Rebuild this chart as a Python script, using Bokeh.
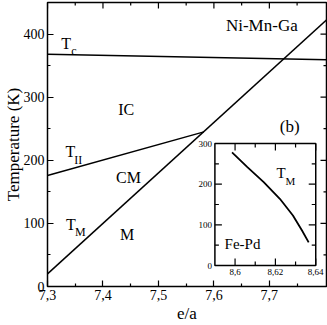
import math
from bokeh.plotting import figure
from bokeh.models import FixedTicker, Label, Range1d
from bokeh.core.properties import value
from bokeh.embed import file_html
from bokeh.resources import INLINE

FONT = "'Liberation Serif', 'Times New Roman', serif"

# ---------------- data ----------------
# Ni-Mn-Ga phase diagram lines (e/a, temperature K)
tc_x = [7.3, 7.81]
tc_y = [368, 359]
tm_x = [7.3, 7.81]
tm_y = [20, 428]
tii_x = [7.3, 7.582]
tii_y = [176, 245]

# Fe-Pd inset martensitic transition curve
fepd_x = [8.5985, 8.6061, 8.6142, 8.6222, 8.6287, 8.6332, 8.6365]
fepd_y = [278, 242, 205, 164, 123, 86, 57]

main_xrange = (7.3, 7.803)
main_yrange = (0, 450)
main_xticks = [7.3, 7.4, 7.5, 7.6, 7.7]
main_xminor = [7.35, 7.45, 7.55, 7.65, 7.75]
main_xlabels = ["7,3", "7,4", "7,5", "7,6", "7,7"]
main_yticks = [0, 100, 200, 300, 400]
main_yminor = [50, 150, 250, 350]

inset_xrange = (8.59, 8.64)
inset_yrange = (0, 300)
inset_xticks = [8.6, 8.62, 8.64]
inset_xminor = [8.61, 8.63]
inset_xlabels = ["8,6", "8,62", "8,64"]
inset_yticks = [0, 100, 200, 300]
inset_yminor = [50, 150, 250]
inset_ylabels = ["0", "100", "200", "300"]

# geometry (pixels)
W, H = 327, 325
FL, FR, FT, FB = 41, 326, 2, 286          # main frame edges
IL, IR, IT, IB = 212, 315, 143, 265       # inset frame edges


def labelled_axis(ax, ticks, minor, labels, font_size, tin, tmin, standoff):
    ax.ticker = FixedTicker(ticks=ticks, minor_ticks=minor)
    ax.major_tick_in = tin
    ax.major_tick_out = 0
    ax.minor_tick_in = tmin
    ax.minor_tick_out = 0
    ax.major_tick_line_color = "black"
    ax.minor_tick_line_color = "black"
    ax.major_tick_line_width = 1.2
    ax.minor_tick_line_width = 1.2
    ax.axis_line_color = None
    if labels is not None:
        ax.major_label_overrides = {t: l for t, l in zip(ticks, labels)}
    ax.major_label_text_font = FONT
    ax.major_label_text_font_size = font_size
    ax.major_label_text_color = "black"
    ax.major_label_standoff = standoff


def edge_ticks(fig, xs, ys, angle, length, **rng):
    fig.ray(x=xs, y=ys, length=length, length_units="screen", angle=angle,
            line_color="black", line_width=1.2, **rng)


def axis_title(ax, text, standoff):
    ax.axis_label = text
    ax.axis_label_text_font = FONT
    ax.axis_label_text_font_size = "17px"
    ax.axis_label_text_font_style = "normal"
    ax.axis_label_text_color = "black"
    ax.axis_label_standoff = standoff


def lab(fig, x, y, text, size, **rng):
    fig.add_layout(Label(x=x, y=y, text=text, text_font=FONT, text_font_size=size,
                         text_color="black", text_baseline="alphabetic", text_align="left", **rng))


# ---------------- main plot ----------------
p = figure(width=W, height=H, x_range=Range1d(*main_xrange), y_range=Range1d(*main_yrange),
           output_backend="svg", toolbar_location=None,
           min_border_left=FL, min_border_right=W - FR, min_border_top=FT, min_border_bottom=H - FB)
p.xgrid.grid_line_color = None
p.ygrid.grid_line_color = None
p.outline_line_color = "black"
p.outline_line_width = 1.5
p.background_fill_color = "white"
p.border_fill_color = "white"

labelled_axis(p.xaxis[0], main_xticks, main_xminor, main_xlabels, "14px", 6, 3, 3)
labelled_axis(p.yaxis[0], main_yticks, main_yminor, None, "14px", 6, 3, 3)
axis_title(p.yaxis[0], "Temperature (K)", -2)
axis_title(p.xaxis[0], "e/a", 1)

# mirrored inward ticks on the top and right edges
edge_ticks(p, main_xticks, [main_yrange[1]] * 5, -math.pi / 2, 6)
edge_ticks(p, main_xminor, [main_yrange[1]] * 5, -math.pi / 2, 3)
edge_ticks(p, [main_xrange[1]] * 5, main_yticks, math.pi, 6)
edge_ticks(p, [main_xrange[1]] * 4, main_yminor, math.pi, 3)

for xs, ys in [(tc_x, tc_y), (tm_x, tm_y), (tii_x, tii_y)]:
    p.line(xs, ys, line_color="black", line_width=1.5)

# region / curve labels (main)
lab(p, 7.3247, 385, "T", "16px")
lab(p, 7.3430, 373, "c", "12px")
lab(p, 7.4276, 280, "IC", "16px")
lab(p, 7.3324, 214, "T", "16px")
lab(p, 7.3484, 200, "II", "12px")
lab(p, 7.4235, 173, "CM", "16px")
lab(p, 7.3335, 99, "T", "16px")
lab(p, 7.3495, 87, "M", "12px")
lab(p, 7.4306, 82, "M", "16px")
lab(p, 7.6217, 413, "Ni-Mn-Ga", "17px")
lab(p, 7.7188, 254, "(b)", "17px")

# ---------------- inset (own scales on the same canvas) ----------------
sx = (IR - IL) / (inset_xrange[1] - inset_xrange[0])
sy = (IB - IT) / (inset_yrange[1] - inset_yrange[0])
p.extra_x_ranges = {"ix": Range1d(inset_xrange[0] - (IL - FL) / sx, inset_xrange[1] + (FR - IR) / sx)}
p.extra_y_ranges = {"iy": Range1d(inset_yrange[0] - (FB - IB) / sy, inset_yrange[1] + (IT - FT) / sy)}
R = dict(x_range_name="ix", y_range_name="iy")

p.quad(left=[inset_xrange[0]], right=[inset_xrange[1]], bottom=[inset_yrange[0]], top=[inset_yrange[1]],
       fill_color="white", line_color="black", line_width=1.5, **R)
x0, x1 = inset_xrange
y0, y1 = inset_yrange
edge_ticks(p, inset_xticks, [y0] * 3, math.pi / 2, 7, **R)
edge_ticks(p, inset_xminor, [y0] * 2, math.pi / 2, 4, **R)
edge_ticks(p, inset_xticks, [y1] * 3, -math.pi / 2, 7, **R)
edge_ticks(p, inset_xminor, [y1] * 2, -math.pi / 2, 4, **R)
edge_ticks(p, [x0] * 4, inset_yticks, 0, 7, **R)
edge_ticks(p, [x0] * 3, inset_yminor, 0, 4, **R)
edge_ticks(p, [x1] * 4, inset_yticks, math.pi, 7, **R)
edge_ticks(p, [x1] * 3, inset_yminor, math.pi, 4, **R)

p.text(x=inset_xticks, y=[y0] * 3, text=inset_xlabels, text_font=value(FONT), text_font_size="9px",
       text_color="black", text_align="center", text_baseline="top", y_offset=3, **R)
p.text(x=[x0] * 4, y=inset_yticks, text=inset_ylabels, text_font=value(FONT), text_font_size="9px",
       text_color="black", text_align="right", text_baseline="middle", x_offset=-3, **R)

p.line(fepd_x, fepd_y, line_color="black", line_width=1.8, **R)
lab(p, 8.6206, 228, "T", "15px", **R)
lab(p, 8.6250, 209, "M", "11px", **R)
lab(p, 8.5948, 54, "Fe-Pd", "15px", **R)

open("out.html", "w").write(file_html(p, INLINE))
